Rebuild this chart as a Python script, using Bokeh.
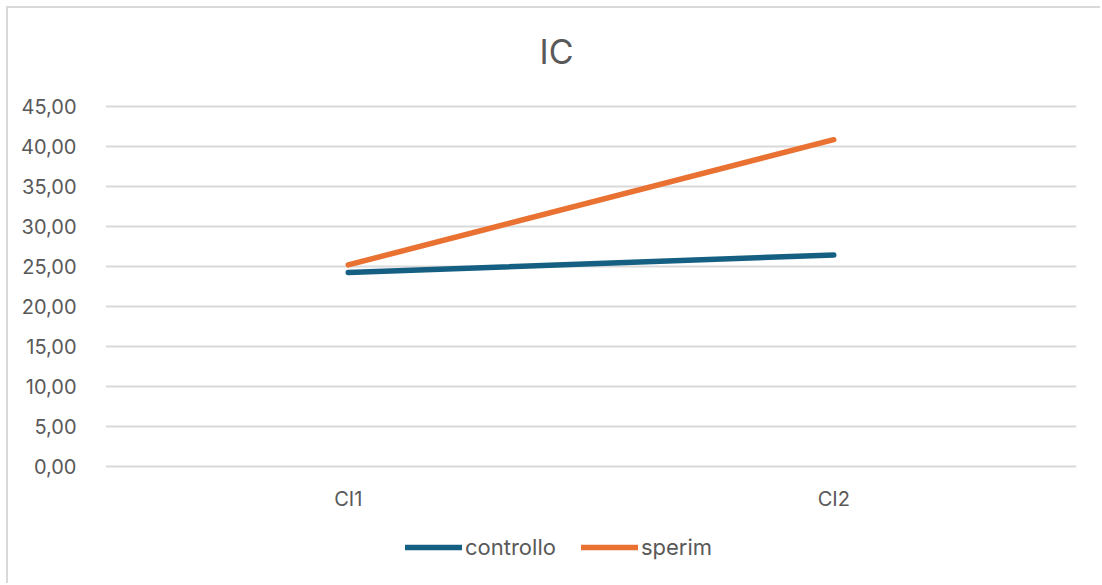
from bokeh.plotting import figure
from bokeh.models import (FactorRange, Legend, LegendItem, Label,
                          CustomJSTickFormatter, FixedTicker)
from bokeh.embed import file_html
from bokeh.resources import INLINE

# data
categories = ["CI1", "CI2"]
controllo = [24.25, 26.45]
sperim = [25.2, 40.85]
y_ticks = [0, 5, 10, 15, 20, 25, 30, 35, 40, 45]

FONT = "Inter"
TEXT = "#595959"
GRID = "#d9d9d9"

# the plotting frame spans the full chart height; the value axis keeps
# 0..45 at the same spots, with the title above and the legend below
p = figure(
    x_range=FactorRange(*categories, range_padding=0),
    y_range=(-14.875, 57.25),
    width=1094, height=577,
    output_backend="svg", toolbar_location=None,
    min_border_left=97, min_border_right=26,
    min_border_top=0, min_border_bottom=0,
)
p.margin = (6, 0, 0, 6)
p.styles = {"border-top": "2px solid #d9d9d9", "border-left": "2px solid #d9d9d9"}
p.outline_line_color = None
p.background_fill_color = "white"
p.border_fill_color = "white"

r1 = p.line(categories, controllo, line_color="#156082", line_width=5.5, line_cap="round")
r2 = p.line(categories, sperim, line_color="#E97132", line_width=5.5, line_cap="round")

# axes
p.yaxis.ticker = FixedTicker(ticks=y_ticks)
p.yaxis.formatter = CustomJSTickFormatter(code="return tick.toFixed(2).replace('.', ',');")
p.xaxis.fixed_location = 0
for ax in (p.xaxis[0], p.yaxis[0]):
    ax.axis_line_color = None
    ax.major_tick_line_color = None
    ax.minor_tick_line_color = None
    ax.major_label_text_font = FONT
    ax.major_label_text_font_size = "20px"
    ax.major_label_text_color = TEXT
p.yaxis.major_label_standoff = 23
p.xaxis.major_label_standoff = 14

p.xgrid.grid_line_color = None
p.ygrid.grid_line_color = GRID
p.ygrid.grid_line_width = 2

# title
p.add_layout(Label(x=0.929, y=51.9, text="IC",
                   text_font=FONT, text_font_size="34px", text_color=TEXT,
                   text_align="center", text_baseline="middle"))

# legend
legend = Legend(
    items=[LegendItem(label="controllo", renderers=[r1]),
           LegendItem(label="sperim", renderers=[r2])],
    orientation="horizontal", location=(300, 25),
    padding=0, margin=0, spacing=25, label_standoff=3,
    glyph_width=57, glyph_height=22, label_height=22,
    label_text_font=FONT, label_text_font_size="22px", label_text_color=TEXT,
    border_line_color=None, background_fill_alpha=0,
)
p.add_layout(legend)

open("out.html", "w").write(file_html(p, INLINE))
